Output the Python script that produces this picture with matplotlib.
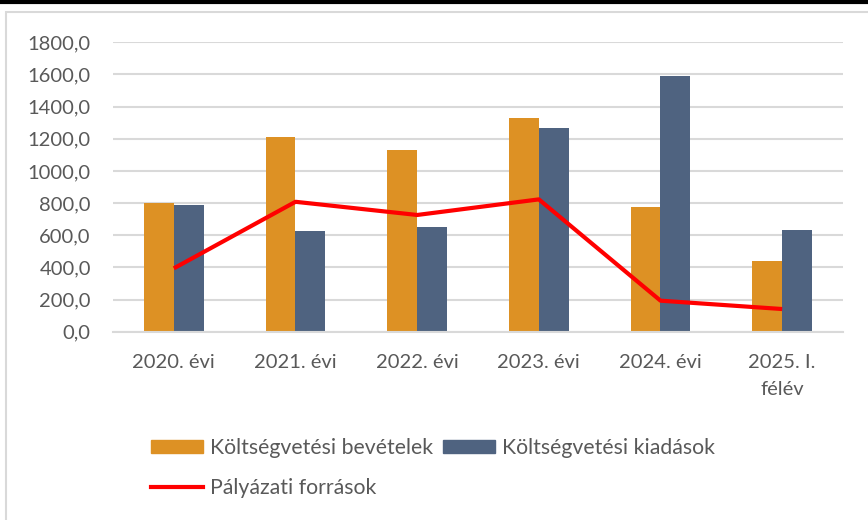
import matplotlib.pyplot as plt
import numpy as np
from matplotlib.lines import Line2D
from matplotlib.patches import Rectangle, Patch

categories = ["2020. évi", "2021. évi", "2022. évi", "2023. évi", "2024. évi", "2025. I.\nfélév"]
bevetelek = [800, 1211, 1130, 1327, 775, 442]
kiadasok = [786, 628, 653, 1267, 1590, 631]
palyazati = [394, 808, 726, 823, 193, 141]

orange = "#DD9124"
blue = "#4F6380"
red = "#FF0000"
grid = "#D9D9D9"
txt = "#595959"

plt.rcParams["font.family"] = ["Lato", "DejaVu Sans"]

fig = plt.figure(figsize=(8.68, 5.2), dpi=100)
ax = fig.add_axes([113/868, 1 - 331.7/520, 730/868, 289.4/520])

x = np.arange(len(categories))
w = 0.245
ax.bar(x - w/2, bevetelek, w, color=orange, zorder=2)
ax.bar(x + w/2, kiadasok, w, color=blue, zorder=2)
ax.plot(x, palyazati, color=red, lw=3, zorder=3, solid_capstyle="butt")

ax.set_xlim(-0.5, len(categories) - 0.5)
ax.set_ylim(0, 1800)
ax.set_yticks(np.arange(0, 1801, 200))
ax.set_yticklabels([f"{v:.1f}".replace(".", ",") for v in np.arange(0, 1801, 200)])
ax.set_xticks(x)
ax.set_xticklabels(categories, linespacing=1.75)
ax.yaxis.grid(True, color=grid, lw=1.5, zorder=0)
ax.set_axisbelow(True)
for s in ["top", "right", "left"]:
    ax.spines[s].set_visible(False)
ax.spines["bottom"].set_color(grid)
ax.spines["bottom"].set_linewidth(1.5)
ax.tick_params(axis="both", length=0, labelsize=14.5, labelcolor=txt)
ax.tick_params(axis="y", pad=16)
ax.tick_params(axis="x", pad=16)

handles = [Patch(color=orange), Line2D([], [], color=red, lw=3), Patch(color=blue)]
labels = ["Költségvetési bevételek", "Pályázati források", "Költségvetési kiadások"]
leg = fig.legend(handles, labels, ncol=2, loc="upper left",
                 bbox_to_anchor=(132/868, 1 - 419/520), frameon=False,
                 fontsize=15.3, handlelength=2.45, handleheight=0.6,
                 handletextpad=0.3, columnspacing=0.5, labelspacing=0.95,
                 labelcolor=txt)

# chart frame
fig.add_artist(Rectangle((6/868, -0.1), 1.0, 1 - 12/520 + 0.1, transform=fig.transFigure,
                         fill=False, edgecolor=grid, lw=1.5))
fig.add_artist(Line2D([0, 1], [1 - 1.5/520, 1 - 1.5/520], transform=fig.transFigure,
                      color="black", lw=3))

fig.savefig("out.png", dpi=100)
